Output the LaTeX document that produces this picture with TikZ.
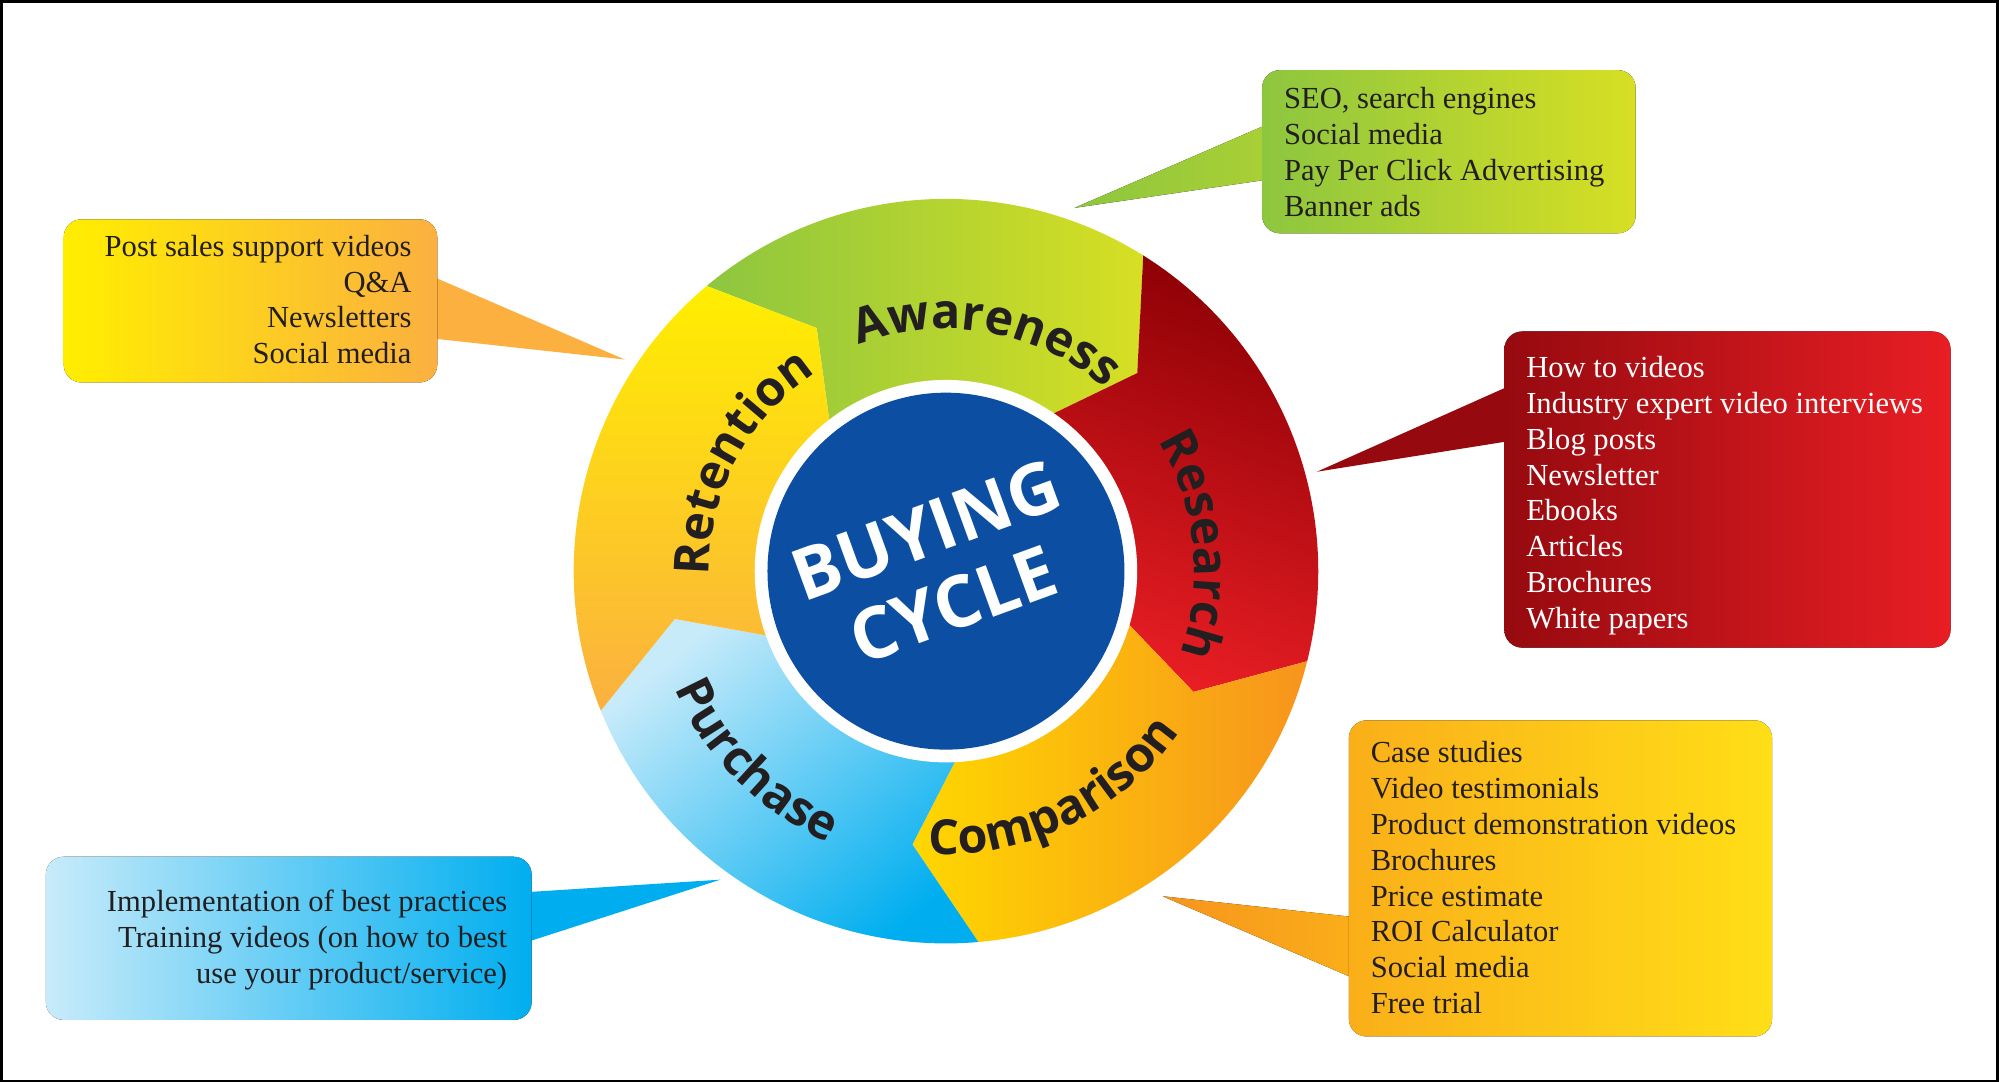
\documentclass[tikz,border=0pt]{standalone}
\usepackage{fontspec}
\setmainfont{Liberation Serif}
\newfontfamily\segfont{Open Sans}
\usetikzlibrary{decorations.text}
\definecolor{inkdark}{HTML}{231F20}
\definecolor{cycleblue}{HTML}{0B4EA2}
\definecolor{awgreen}{RGB}{141,198,63}
\definecolor{awlime}{RGB}{215,223,35}
\definecolor{resdark}{RGB}{140,0,5}
\definecolor{resmid}{RGB}{150,10,15}
\definecolor{resred}{RGB}{232,30,36}
\definecolor{cmporange}{RGB}{247,148,29}
\definecolor{cmpamber}{RGB}{250,175,25}
\definecolor{cmpyellow}{RGB}{255,215,0}
\definecolor{cmplight}{RGB}{255,222,23}
\definecolor{pclight}{RGB}{200,235,250}
\definecolor{pccyan}{RGB}{0,174,239}
\definecolor{rtyellow}{RGB}{255,238,0}
\definecolor{rtorange}{RGB}{251,176,64}
\tikzset{
  callout/.style={rounded corners=14pt},
  calltext/.style={inner sep=0pt, anchor=north west, align=left, font=\fontsize{24}{28.2}\selectfont, text=inkdark},
  seglabel/.style={decorate, decoration={text along path, text align=center, text={|\fontsize{38}{40}\segfont\bfseries\color{inkdark}|#1}}}
}
% one arrow-shaped sector of the ring
\newcommand\ringseg[3]{%
  \path[#3] (#1:292) arc[start angle=#1, end angle=#2, radius=292] -- ({#2-12}:216) -- (#2:140)
    arc[start angle=#2, end angle=#1, radius=140] -- ({#1-12}:216) -- cycle;}
\begin{document}
\begin{tikzpicture}[x=1pt, y=-1pt]
\draw[line width=2pt, fill=white] (1,1) rectangle (1567,848);

% callouts
\fill[left color=awgreen, right color=awgreen!60!awlime] (843,163) -- (1000,95) -- (1000,140) -- cycle;
\fill[callout, left color=awgreen, right color=awlime] (990,55) rectangle (1283,183);
\node[calltext] (aware) at (1007,68) {SEO, search engines\\Social media\\Pay Per Click Advertising\\Banner ads};

\fill[resmid] (1033,370) -- (1190,300) -- (1190,345) -- cycle;
\fill[callout, left color=resmid, right color=resred] (1180,260) rectangle (1530,508);
\node[calltext, text=white] (research) at (1197,279) {How to videos\\Industry expert video interviews\\Blog posts\\Newsletter\\Ebooks\\Articles\\Brochures\\White papers};

\fill[left color=cmporange, right color=cmpamber] (912,703) -- (1068,720) -- (1068,770) -- cycle;
\fill[callout, left color=cmpamber, right color=cmplight] (1058,565) rectangle (1390,813);
\node[calltext] (compare) at (1075,581) {Case studies\\Video testimonials\\Product demonstration videos\\Brochures\\Price estimate\\ROI Calculator\\Social media\\Free trial};

\fill[rtorange] (490,282) -- (335,215) -- (335,265) -- cycle;
\fill[callout, left color=rtyellow, right color=rtorange] (50,172) rectangle (343,300);
\node[calltext, anchor=north east, align=right] (retain) at (323,184) {Post sales support videos\\Q\&A\\Newsletters\\Social media};

\fill[pccyan] (565,690) -- (410,700) -- (410,740) -- cycle;
\fill[callout, left color=pclight, right color=pccyan] (36,672) rectangle (417,800);
\node[calltext, anchor=north east, align=right] (purchase) at (398,698) {Implementation of best practices\\Training videos (on how to best\\use your product/service)};

% ring
\begin{scope}[shift={(742,448)}, x=1pt, y=1pt]
\ringseg{130}{58}{left color=awgreen, right color=awlime}
\ringseg{58}{-14}{top color=resdark, bottom color=resred, shading angle=-20}
\ringseg{-14}{-85}{left color=cmpyellow, right color=cmporange}
\ringseg{-85}{-158}{top color=pclight, bottom color=pccyan, shading angle=40}
\ringseg{202}{130}{top color=rtyellow, bottom color=rtorange}
\fill[white] (0,0) circle[radius=150];
\fill[cycleblue] (0,0) circle[radius=140];
\node[text=white, rotate=20, align=center, font=\fontsize{56}{62}\segfont\bfseries] (cycle) at (-5,3) {BUYING\\CYCLE};
\path[seglabel=Awareness] (130:190) arc[start angle=130, end angle=30, radius=190];
\path[seglabel=Research] (56:195) arc[start angle=56, end angle=-44, radius=195];
\path[seglabel=Comparison] (-124:222) arc[start angle=-124, end angle=-4, radius=222];
\path[seglabel=Purchase] (-185:232) arc[start angle=-185, end angle=-85, radius=232];
\path[seglabel=Retention] (202:186) arc[start angle=202, end angle=102, radius=186];
\end{scope}
\end{tikzpicture}
\end{document}
